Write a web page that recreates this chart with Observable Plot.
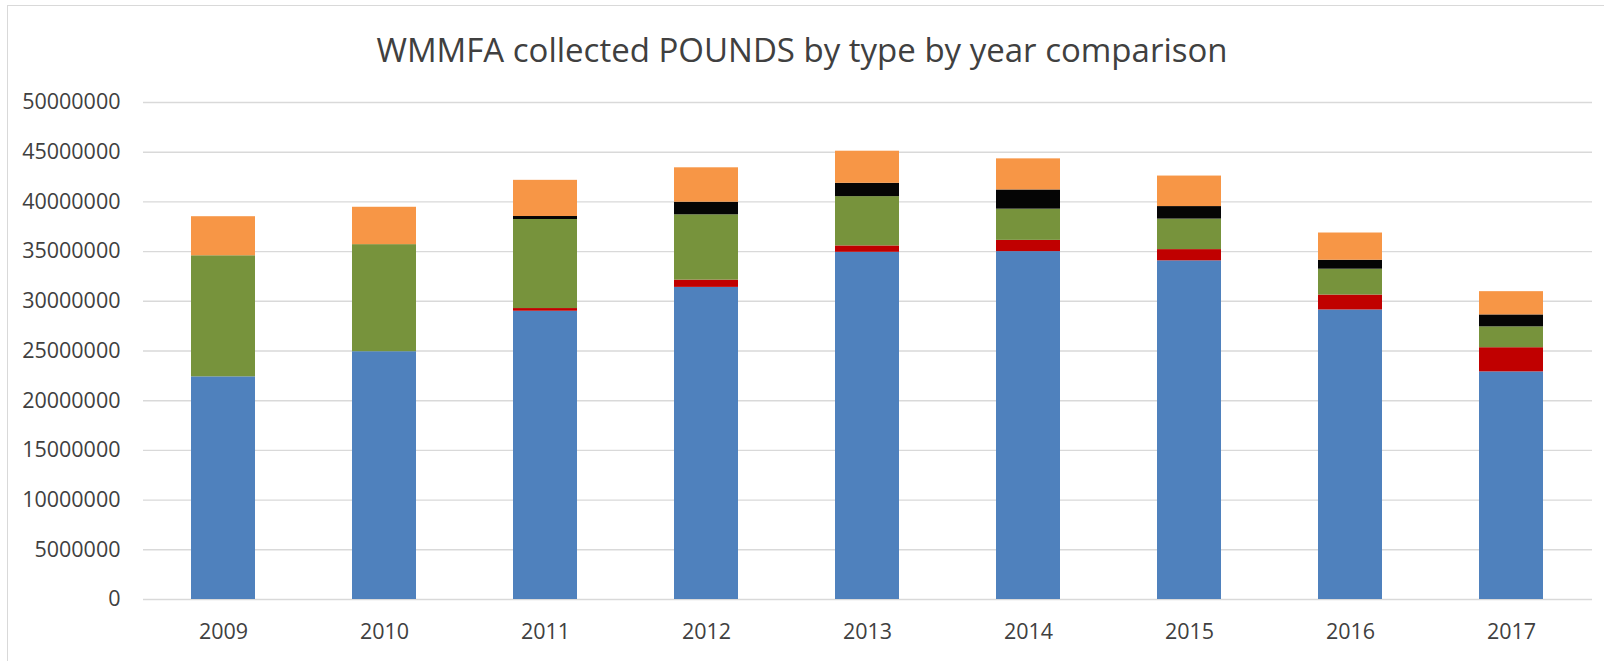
<!DOCTYPE html>
<html>
<head>
<meta charset="utf-8">
<script src="https://cdn.jsdelivr.net/npm/d3@7"></script>
<script src="https://cdn.jsdelivr.net/npm/@observablehq/plot@0.6"></script>
<style>
  html, body { margin: 0; padding: 0; background: #fff; overflow: hidden; }
  #wrap { position: relative; width: 1604px; height: 661px; }
  #frame { position: absolute; left: 7px; top: 5px; width: 1700px; height: 800px;
           border: 1.5px solid #d9d9d9; box-sizing: border-box; pointer-events: none; }
  #title { height: 47px; padding-top: 33px; line-height: 33px; font-size: 33px;
           font-family: "Open Sans", sans-serif; color: #404040; text-align: center; }
  #chart svg { display: block; overflow: visible; }
</style>
</head>
<body>
<div id="wrap">
  <div id="frame"></div>
  <div id="title">WMMFA collected POUNDS by type by year comparison</div>
  <div id="chart"></div>
</div>
<script>
const years = ["2009", "2010", "2011", "2012", "2013", "2014", "2015", "2016", "2017"];
const typeNames = ["Type 1", "Type 2", "Type 3", "Type 4", "Type 5"];
const typeColors = ["#4F81BD", "#C00000", "#77933C", "#050505", "#F79646"];

const type1 = [22400000, 24930000, 29000000, 31400000, 34930000, 35000000, 34070000, 29130000, 22900000];
const type2 = [0, 0, 270000, 730000, 640000, 1130000, 1130000, 1500000, 2430000];
const type3 = [12180000, 10770000, 8960000, 6570000, 4960000, 3140000, 3070000, 2600000, 2100000];
const type4 = [0, 0, 300000, 1270000, 1340000, 1930000, 1260000, 900000, 1200000];
const type5 = [3930000, 3760000, 3640000, 3460000, 3230000, 3130000, 3070000, 2740000, 2340000];

const yTicks = [0, 5000000, 10000000, 15000000, 20000000, 25000000, 30000000, 35000000, 40000000, 45000000, 50000000];

const seriesValues = [type1, type2, type3, type4, type5];
const data = years.flatMap((year, i) =>
  typeNames.map((type, s) => ({ year, type, pounds: seriesValues[s][i] }))
);

const chart = Plot.plot({
  width: 1604,
  height: 581,
  marginTop: 22,
  marginBottom: 62,
  marginLeft: 143,
  marginRight: 12,
  style: { fontFamily: "Open Sans, sans-serif", fontSize: "21.5px", color: "#404040", background: "transparent" },
  x: { type: "band", domain: years, paddingInner: 0.6, paddingOuter: 0.3, label: null },
  y: { domain: [0, 50000000], label: null },
  color: { domain: typeNames, range: typeColors },
  marks: [
    Plot.gridY(yTicks, { stroke: "#d9d9d9", strokeOpacity: 1, strokeWidth: 1.4 }),
    Plot.barY(data, { x: "year", y: "pounds", fill: "type", order: typeNames }),
    Plot.axisY(yTicks, { tickSize: 0, tickPadding: 23, tickFormat: d => String(d), label: null }),
    Plot.axisX({ tickSize: 0, tickPadding: 24, label: null })
  ]
});
document.getElementById("chart").appendChild(chart);
</script>
</body>
</html>
